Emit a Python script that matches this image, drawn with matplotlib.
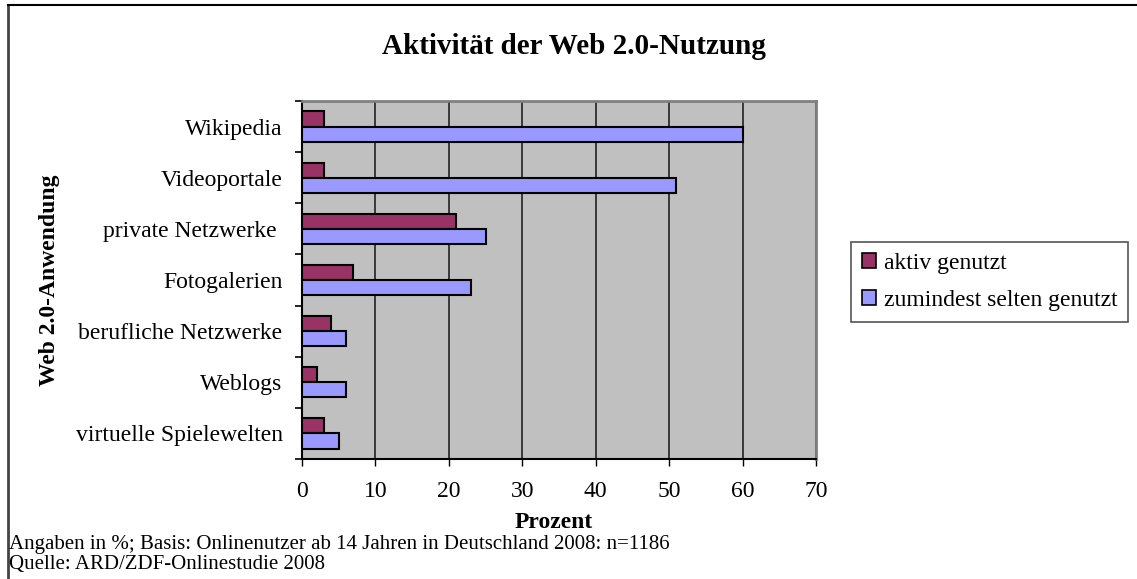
import numpy as np
import matplotlib
matplotlib.use("Agg")
import matplotlib.pyplot as plt
from matplotlib.lines import Line2D

categories = ["Wikipedia", "Videoportale", "private Netzwerke ", "Fotogalerien",
              "berufliche Netzwerke", "Weblogs", "virtuelle Spielewelten"]
aktiv = [3, 3, 21, 7, 4, 2, 3]
selten = [60, 51, 25, 23, 6, 6, 5]
series_names = ["aktiv genutzt", "zumindest selten genutzt"]
x_ticks = [0, 10, 20, 30, 40, 50, 60, 70]

plt.rcParams["font.family"] = ["Liberation Serif", "DejaVu Serif"]

W, H = 1137, 579
fig = plt.figure(figsize=(W / 100, H / 100), dpi=100)
ax = fig.add_axes([302 / W, 1 - 459 / H, (816 - 302) / W, (459 - 101) / H])
ax.set_facecolor("#c0c0c0")

n = len(categories)
y = np.arange(n)
h = 0.295
ax.barh(y - h / 2, aktiv, height=h, color="#993366", edgecolor="black", linewidth=1.5,
        label=series_names[0], zorder=3)
ax.barh(y + h / 2, selten, height=h, color="#9999ff", edgecolor="black", linewidth=1.5,
        label=series_names[1], zorder=3)

ax.set_xlim(0, 70)
ax.set_ylim(n - 0.5, -0.5)
ax.set_xticks(x_ticks)
ax.set_xticklabels([str(t) for t in x_ticks], fontsize=17)
ax.set_yticks(y)
ax.set_yticklabels(categories, fontsize=17)
ax.set_yticks(np.arange(n + 1) - 0.5, minor=True)
ax.tick_params(axis="y", which="major", length=0, pad=14)
ax.tick_params(axis="y", which="minor", length=5, width=1.2, direction="out")
ax.tick_params(axis="x", length=5, width=1.0, direction="out", pad=11)
ax.grid(axis="x", color="#222222", linewidth=1.2, zorder=0)

for s in ["top", "right"]:
    ax.spines[s].set_color("#808080")
    ax.spines[s].set_linewidth(2)
for s in ["left", "bottom"]:
    ax.spines[s].set_color("black")
    ax.spines[s].set_linewidth(1.5)

ax.set_xlabel("Prozent", fontsize=17, fontweight="bold")
ax.xaxis.set_label_coords(0.49, -0.148)
ax.set_ylabel("Web 2.0-Anwendung", fontsize=17, fontweight="bold")
ax.yaxis.set_label_coords(-0.47, 0.5)

fig.text(574 / W, 1 - 47 / H, "Aktivität der Web 2.0-Nutzung", ha="center", va="center",
         fontsize=21, fontweight="bold")

handles = [
    plt.Rectangle((0, 0), 1, 1, facecolor="#993366", edgecolor="black", linewidth=1.2),
    plt.Rectangle((0, 0), 1, 1, facecolor="#9999ff", edgecolor="black", linewidth=1.2),
]
leg = fig.legend(handles, series_names, loc="upper left",
                 bbox_to_anchor=(851 / W, 1 - 242 / H), fontsize=17,
                 handlelength=0.6, handleheight=0.6, handletextpad=0.35,
                 borderpad=0.45, borderaxespad=0, labelspacing=0.7,
                 fancybox=False, framealpha=1)
leg.get_frame().set_edgecolor("#555555")
leg.get_frame().set_linewidth(1.2)

fig.text(9 / W, 1 - 544 / H,
         "Angaben in %; Basis: Onlinenutzer ab 14 Jahren in Deutschland 2008: n=1186",
         ha="left", va="center", fontsize=15)
fig.text(9 / W, 1 - 565 / H, "Quelle: ARD/ZDF-Onlinestudie 2008",
         ha="left", va="center", fontsize=15)

# outer frame (left and top)
fig.add_artist(Line2D([8 / W, 8 / W], [0, 1 - 5 / H], color="#444444",
                      linewidth=2, transform=fig.transFigure))
fig.add_artist(Line2D([8 / W, 1.0], [1 - 5 / H, 1 - 5 / H], color="black",
                      linewidth=1.5, transform=fig.transFigure))

fig.savefig("out.png", dpi=100)
